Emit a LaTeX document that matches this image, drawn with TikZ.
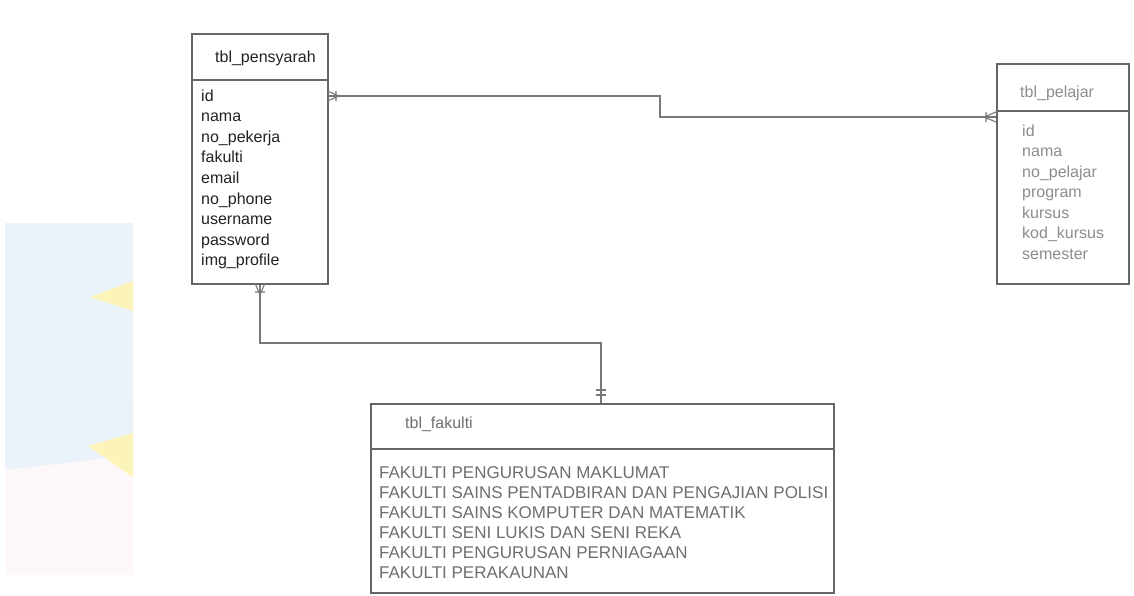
\documentclass[tikz,border=0pt]{standalone}
\usepackage{fontspec}
\setmainfont{Liberation Sans}
\definecolor{boxgray}{HTML}{666666}
\definecolor{linegray}{HTML}{787878}
\definecolor{darktxt}{HTML}{222222}
\definecolor{lighttxt}{HTML}{8C8C8C}
\definecolor{midtxt}{HTML}{6E6E6E}
\definecolor{wmblue}{HTML}{EAF3FA}
\definecolor{wmpink}{HTML}{FDF7F9}
\definecolor{wmyellow}{HTML}{FCF3B8}
\begin{document}
\begin{tikzpicture}[x=1pt,y=-1pt,
  tbox/.style={draw=boxgray,line width=1.5pt,inner sep=0pt,anchor=north west},
  sepline/.style={draw=boxgray,line width=1.5pt},
  conn/.style={draw=linegray,line width=1.5pt},
  endsym/.style={draw=linegray,line width=1.1pt},
  rowtxt/.style={anchor=base west,inner sep=0pt,font=\fontsize{16}{19}\selectfont},
  darkrow/.style={rowtxt,text=darktxt},
  lightrow/.style={rowtxt,text=lighttxt},
  fakrow/.style={rowtxt,text=midtxt,font=\fontsize{17}{19}\selectfont},
 ]
\useasboundingbox (0,0) rectangle (1134,595);
% watermark
\fill[wmpink] (5,430) -- (133,400) -- (133,575) -- (5,575) -- cycle;
\fill[wmblue] (5,223) -- (133,223) -- (133,455) -- (5,470) -- cycle;
\fill[wmyellow] (90,297) -- (133,281) -- (133,311) -- cycle;
\fill[wmyellow] (88,446) -- (133,433) -- (133,477) -- cycle;

% tbl_pensyarah
\node[tbox, minimum width=136pt, minimum height=250pt] (pens) at (191,33) {};
\draw[sepline] (pens.west |- 0,80) -- (pens.east |- 0,80);
\node[darkrow] (penst) at (215,62) {tbl\_pensyarah};
\foreach \t [count=\i] in {id,nama,no\_pekerja,fakulti,email,no\_phone,username,password,img\_profile}
  \node[darkrow] (pr\i) at (201,{101+(\i-1)*20.6}) {\t};

% tbl_pelajar
\node[tbox, minimum width=132pt, minimum height=220pt] (pel) at (996,63) {};
\draw[sepline] (pel.west |- 0,111) -- (pel.east |- 0,111);
\node[lightrow] (pelt) at (1020,97) {tbl\_pelajar};
\foreach \t [count=\i] in {id,nama,no\_pelajar,program,kursus,kod\_kursus,semester}
  \node[lightrow] (lr\i) at (1022,{136+(\i-1)*20.5}) {\t};

% tbl_fakulti
\node[tbox, minimum width=463pt, minimum height=189pt] (fak) at (370,403) {};
\draw[sepline] (fak.west |- 0,449) -- (fak.east |- 0,449);
\node[rowtxt,text=midtxt] (fakt) at (405,428) {tbl\_fakulti};
\foreach \t [count=\i] in {FAKULTI PENGURUSAN MAKLUMAT,FAKULTI SAINS PENTADBIRAN DAN PENGAJIAN POLISI,FAKULTI SAINS KOMPUTER DAN MATEMATIK,FAKULTI SENI LUKIS DAN SENI REKA,FAKULTI PENGURUSAN PERNIAGAAN,FAKULTI PERAKAUNAN}
  \node[fakrow] (fr\i) at (379,{478+(\i-1)*20}) {\t};

% connector pensyarah -- pelajar
\coordinate (b1) at (660,96);
\coordinate (b2) at (660,117);
\draw[conn] (pens.east |- b1) -- (b1) -- (b2) -- (pel.west |- b2);
\draw[endsym] (339,96) -- (327,91) (339,96) -- (327,101) (336,91) -- (336,101);
\draw[endsym] (984,117) -- (996,112) (984,117) -- (996,122) (986,112) -- (986,122);

% connector pensyarah -- fakulti
\coordinate (b3) at (260,343);
\coordinate (b4) at (601,343);
\draw[conn] (pens.south -| b3) -- (b3) -- (b4) -- (fak.north -| b4);
\draw[endsym] (260,295) -- (255,283) (260,295) -- (265,283) (255,292) -- (265,292);
\draw[endsym] (596,390) -- (606,390) (596,395) -- (606,395);
\end{tikzpicture}
\end{document}
